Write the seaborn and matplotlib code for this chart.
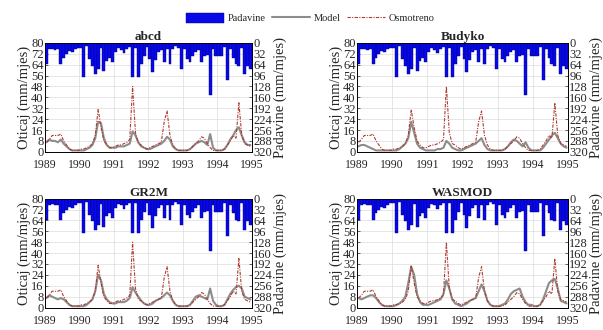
import numpy as np
import pandas as pd
import matplotlib
matplotlib.use("Agg")
import matplotlib.pyplot as plt
import seaborn as sns
from matplotlib.patches import Patch
from matplotlib.lines import Line2D

# Podaci (mjesecne vrijednosti 1989-1994)
godine = [1989, 1990, 1991, 1992, 1993, 1994, 1995]
modeli = ["abcd", "Budyko", "GR2M", "WASMOD"]

padavine = [62, 18, 17, 20, 19, 62, 43, 33, 24, 27, 19, 14,
            14, 100, 10, 48, 67, 91, 76, 16, 84, 52, 43, 57,
            28, 15, 20, 30, 18, 12, 100, 14, 100, 62, 38, 12,
            48, 86, 50, 28, 20, 57, 18, 62, 18, 10, 16, 76,
            18, 48, 57, 38, 28, 20, 57, 38, 35, 153, 18, 38,
            38, 38, 12, 110, 18, 43, 62, 67, 14, 91, 67, 76]

osmotreno = [7, 9, 12, 12, 12, 13, 8, 5, 2, 1, 1, 1,
             2, 2, 3, 4, 6, 12, 31, 18, 8, 5, 3, 3,
             4, 5, 5, 6, 7, 9, 48, 14, 6, 5, 3, 2,
             3, 4, 5, 6, 7, 22, 30, 12, 5, 2, 1, 1,
             1, 1, 2, 4, 6, 8, 11, 10, 6, 3, 1, 1,
             1, 1, 2, 5, 8, 12, 10, 36, 12, 6, 5, 4]

model_abcd = [7, 9, 8, 8, 7, 9, 6, 4, 2, 1, 1, 1,
              1, 1, 2, 3, 5, 10, 22, 21, 10, 5, 3, 3,
              3, 4, 4, 4, 5, 6, 15, 12, 7, 4, 3, 2,
              2, 3, 4, 5, 6, 8, 11, 9, 4, 2, 1, 1,
              1, 1, 2, 4, 6, 7, 8, 7, 5, 13, 3, 1,
              1, 1, 2, 5, 9, 12, 16, 18, 12, 7, 5, 5]

model_budyko = [4, 5, 5, 4, 3, 2, 1, 1, 1, 1, 1, 1,
                1, 1, 2, 4, 6, 10, 22, 14, 6, 3, 2, 1,
                1, 1, 1, 2, 2, 3, 8, 6, 3, 2, 1, 1,
                2, 3, 4, 5, 6, 8, 10, 5, 2, 1, 1, 1,
                1, 1, 2, 4, 7, 9, 8, 6, 4, 7, 3, 1,
                1, 1, 1, 3, 6, 9, 12, 14, 10, 6, 4, 3]

model_gr2m = [7, 9, 8, 7, 6, 7, 6, 4, 2, 1, 1, 1,
              1, 1, 2, 4, 6, 12, 24, 20, 10, 6, 4, 3,
              3, 4, 4, 4, 5, 7, 15, 11, 8, 5, 3, 2,
              2, 3, 5, 6, 7, 9, 11, 9, 5, 2, 1, 1,
              1, 1, 2, 5, 8, 9, 8, 7, 6, 14, 5, 2,
              1, 1, 2, 6, 10, 13, 15, 16, 14, 8, 7, 6]

model_wasmod = [7, 6, 7, 8, 9, 9, 7, 4, 2, 1, 1, 1,
                1, 2, 3, 5, 8, 18, 30, 24, 10, 4, 2, 2,
                2, 3, 4, 5, 6, 10, 20, 14, 6, 3, 2, 1,
                2, 3, 5, 6, 7, 12, 17, 12, 5, 2, 1, 1,
                1, 2, 3, 6, 10, 12, 13, 14, 8, 4, 2, 2,
                1, 1, 2, 6, 12, 18, 20, 21, 14, 5, 4, 3]

simulacije = [model_abcd, model_budyko, model_gr2m, model_wasmod]

sns.set_style("white")
plt.rcParams["font.family"] = ["Liberation Serif", "DejaVu Serif"]
plt.rcParams["axes.linewidth"] = 0.6

fig = plt.figure(figsize=(6.03, 3.30), dpi=100)

# polozaji panela [lijevo, dolje, sirina, visina]
pozicije = [[0.0746, 0.540, 0.343, 0.330],
            [0.592, 0.540, 0.350, 0.330],
            [0.0746, 0.068, 0.343, 0.330],
            [0.592, 0.068, 0.350, 0.330]]

mjeseci = 1989 + np.arange(len(osmotreno)) / 12

plava = "#0808e8"
siva = "#8c8c8c"
crvena = "#b03a2e"

for naziv, model, poz in zip(modeli, simulacije, pozicije):
    ax = fig.add_axes(poz)
    ax2 = ax.twinx()

    df = pd.DataFrame({"t": mjeseci + 1 / 24, "Model": model, "Osmotreno": osmotreno})
    sns.lineplot(data=df, x="t", y="Model", ax=ax, color=siva, lw=1.5, legend=False)
    sns.lineplot(data=df, x="t", y="Osmotreno", ax=ax, color=crvena, lw=0.8,
                 linestyle=(0, (3, 1.2, 1, 1.2)), legend=False)

    ax2.bar(mjeseci, padavine, width=1 / 12, align="edge", color=plava,
            edgecolor="#00008b", linewidth=0.3)

    ax.set_xlim(1989, 1995)
    ax.set_ylim(0, 80)
    ax.set_yticks(np.arange(0, 81, 8))
    ax.set_xticks(godine)
    ax.set_xticklabels([str(g) for g in godine])
    ax2.set_ylim(320, 0)
    ax2.set_yticks(np.arange(0, 321, 32))

    ax.grid(True, color="#dcdcdc", lw=0.5)
    ax.set_xlabel("")
    ax.set_ylabel("Oticaj (mm/mjes)", fontsize=10.5, labelpad=0)
    ax2.set_ylabel("Padavine (mm/mjes)", fontsize=10.5, labelpad=1)
    ax.set_title(naziv, fontsize=9.5, fontweight="bold", pad=1)

    for a in (ax, ax2):
        a.tick_params(axis="y", labelsize=9, length=2, width=0.5, pad=1,
                      direction="in")
        a.tick_params(axis="x", labelsize=8.5, length=2, width=0.5, pad=5,
                      direction="in")
        for s in a.spines.values():
            s.set_linewidth(0.6)
            s.set_color("black")

rucke = [Patch(facecolor=plava, edgecolor="#00008b", lw=0.3),
         Line2D([], [], color=siva, lw=1.5),
         Line2D([], [], color=crvena, lw=0.8, linestyle=(0, (3, 1.2, 1, 1.2)))]
fig.legend(rucke, ["Padavine", "Model", "Osmotreno"], loc="upper center",
           bbox_to_anchor=(0.515, 0.99), ncol=3, frameon=False, fontsize=7.5,
           handlelength=3.6, handleheight=1.1, columnspacing=0.6,
           handletextpad=0.4)

fig.savefig("out.png", dpi=100)
